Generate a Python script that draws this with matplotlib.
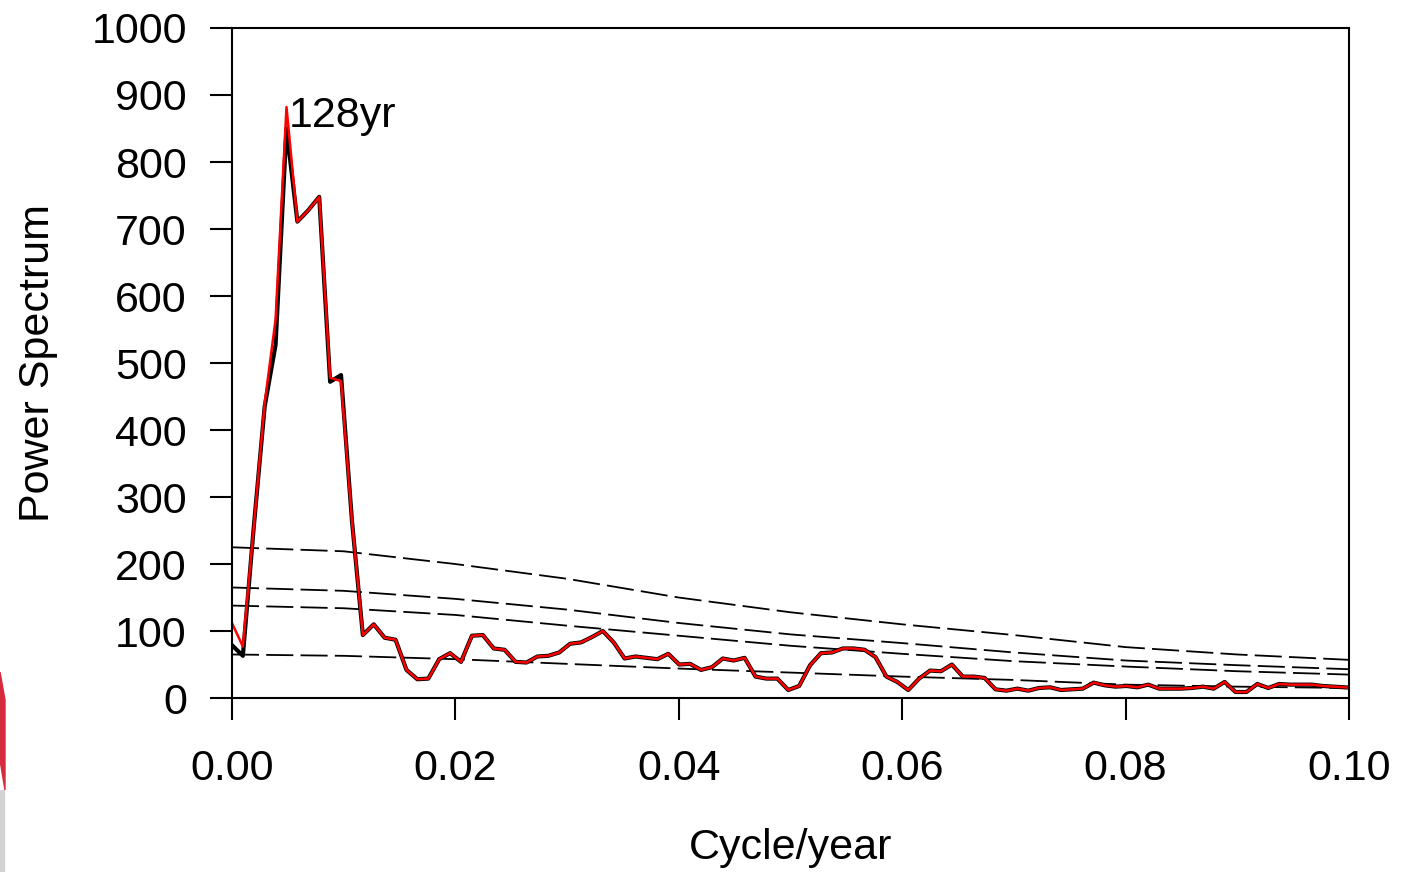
import numpy as np
import matplotlib
matplotlib.use('Agg')
from matplotlib import pyplot as plt
from matplotlib.patches import Rectangle, Polygon

plt.rcParams['font.family'] = ['Liberation Sans', 'DejaVu Sans']

# spectrum, one value per frequency bin (bin width 1/1024 cycle/year)
black_vals = [79, 63, 255, 435, 527, 850, 711, 728, 748, 472, 482, 265, 94, 110, 90, 87,
              42, 28, 29, 58, 67, 54, 93, 94, 74, 72, 54, 53, 62, 63, 68, 81, 83, 91,
              100, 83, 59, 62, 60, 58, 66, 50, 51, 42, 46, 59, 56, 60, 32, 29, 29, 12,
              18, 49, 67, 68, 74, 74, 72, 61, 32, 24, 12, 29, 41, 40, 50, 32, 32, 30,
              13, 11, 14, 11, 15, 16, 12, 13, 14, 23, 19, 17, 18, 16, 20, 14, 14, 14,
              15, 17, 14, 24, 9, 9, 21, 15, 21, 20, 20, 20, 18, 17, 16, 15]
red_vals = list(black_vals)
red_vals[0] = 112
red_vals[1] = 77
red_vals[3] = 440
red_vals[4] = 565
red_vals[5] = 882
red_vals[9] = 478
red_vals[10] = 473
freq = np.arange(len(black_vals)) / 1024.0

# confidence levels
conf_f = [0, 0.01, 0.02, 0.03, 0.04, 0.05, 0.06, 0.07, 0.08, 0.09, 0.10]
conf_1 = [225, 219, 200, 178, 150, 128, 110, 94, 76, 65, 57]
conf_2 = [165, 160, 148, 132, 112, 95, 82, 68, 56, 49, 43]
conf_3 = [138, 134, 124, 108, 93, 78, 66, 55, 47, 40, 35]
conf_4 = [65, 63, 58, 51, 44, 38, 32, 27, 20, 17, 15]

fig = plt.figure(figsize=(14.04, 8.72), dpi=100)
ax = fig.add_axes([0.1652, 0.1995, 0.7956, 0.7684])

for c in (conf_1, conf_2, conf_3, conf_4):
    ax.plot(conf_f, c, color='black', lw=1.3, linestyle=(0, (15, 4)))

ax.plot(freq, black_vals, color='black', lw=3.0)
ax.plot(freq, red_vals, color='red', lw=1.8)

ax.text(0.0051, 852, '128yr', fontsize=31, ha='left', va='baseline')

ax.set_xlim(0, 0.1)
ax.set_ylim(0, 1000)
ax.set_xticks([0, 0.02, 0.04, 0.06, 0.08, 0.10])
ax.set_xticklabels(['0.00', '0.02', '0.04', '0.06', '0.08', '0.10'])
ax.set_yticks(range(0, 1001, 100))
ax.tick_params(axis='both', direction='out', length=15.5, width=1.5, labelsize=31)
ax.tick_params(axis='y', pad=17)
ax.tick_params(axis='x', pad=21)
for s in ax.spines.values():
    s.set_linewidth(1.5)

ax.set_xlabel('Cycle/year', fontsize=31, labelpad=28)
ax.set_ylabel('Power Spectrum', fontsize=31, labelpad=24)

# cropped red/grey edge on the left border of the image
fig.patches.append(Rectangle((0, 0), 4 / 1404, 82 / 872, transform=fig.transFigure,
                             color='#d3d3d3', zorder=0))
fig.patches.append(Polygon([(0, 1 - 672 / 872), (5 / 1404, 1 - 700 / 872),
                            (5 / 1404, 1 - 790 / 872), (0, 1 - 760 / 872)],
                           closed=True, transform=fig.transFigure,
                           color='#d62b3c', zorder=0))

fig.savefig('out.png', dpi=100)
